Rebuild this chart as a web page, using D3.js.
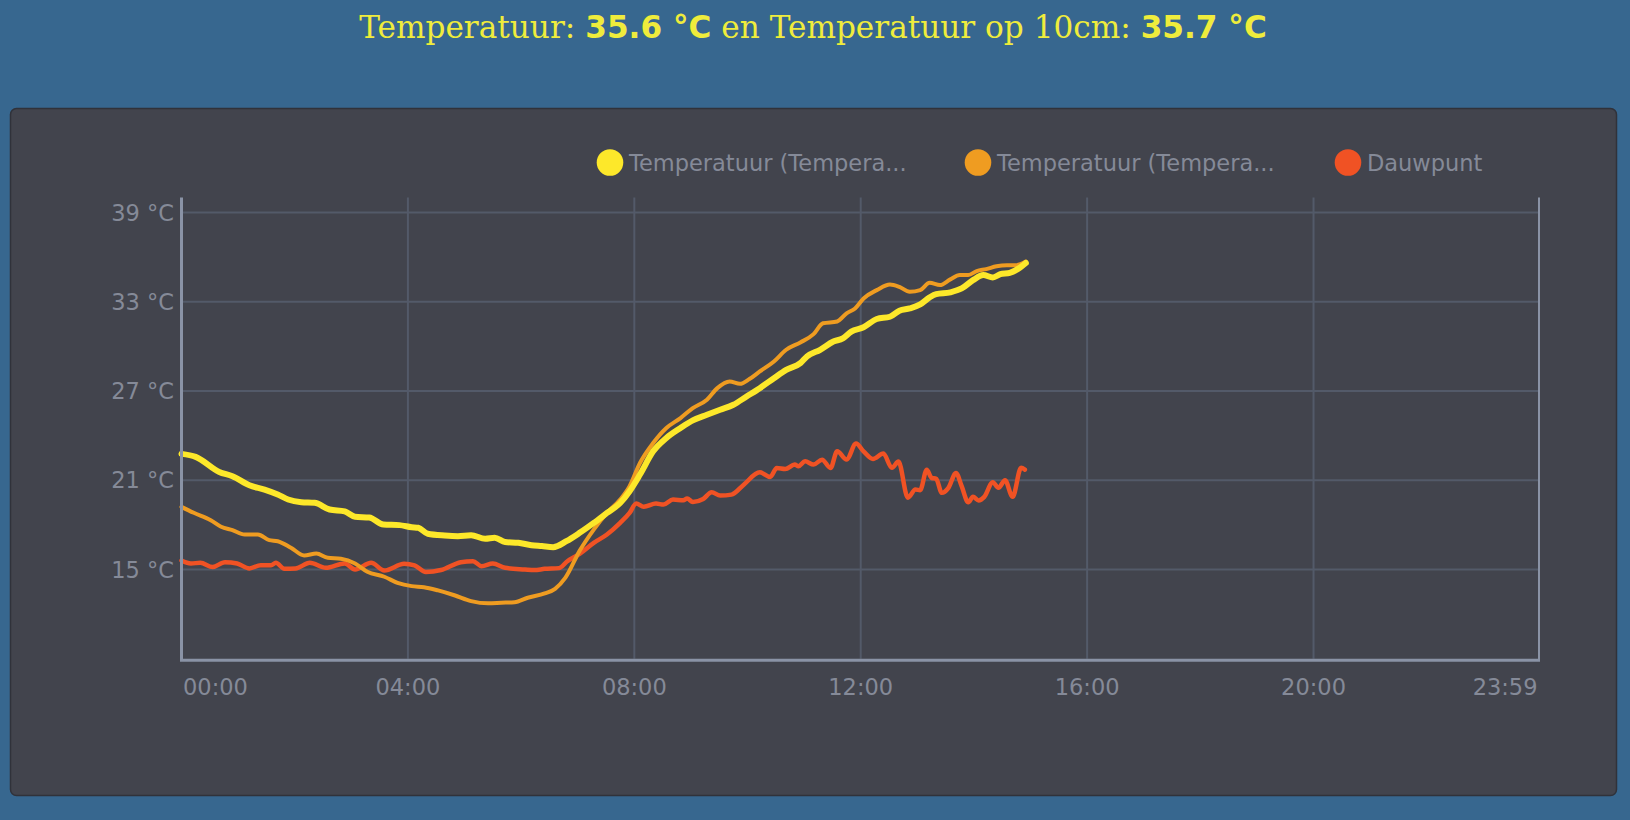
<!DOCTYPE html>
<html>
<head>
<meta charset="utf-8">
<script src="https://cdn.jsdelivr.net/npm/d3@7"></script>
<style>
  body { margin: 0; background: #37678f; }
  svg { display: block; }
</style>
</head>
<body>
<svg id="chart"></svg>
<script>
// titel waarden
const currentTemp = "35.6 °C";
const currentTemp10 = "35.7 °C";

const seriesNames = ["Temperatuur (Tempera...", "Temperatuur (Tempera...", "Dauwpunt"];
const yTicks = [15, 21, 27, 33, 39];
const xTicks = ["00:00", "04:00", "08:00", "12:00", "16:00", "20:00", "23:59"];

const tempTimes = ["00:00","00:15","00:40","00:54","01:12","01:28","01:42","01:53","02:07","02:21","02:37","02:53","03:04","03:19","03:34","03:51","04:04","04:11","04:21","04:39","04:53","05:07","05:22","05:32","05:43","05:57","06:11","06:22","06:34","06:48","07:02","07:17","07:31","07:45","07:55","08:06","08:20","08:34","08:49","09:02","09:17","09:31","09:45","09:59","10:13","10:28","10:41","10:56","11:03","11:17","11:31","11:41","11:50","12:03","12:17","12:31","12:41","12:52","13:03","13:13","13:20","13:35","13:47","13:59","14:10","14:20","14:28","14:38","14:49","14:55"];
const tempValues = [22.77,22.57,21.56,21.27,20.66,20.37,20.04,19.70,19.52,19.48,19.03,18.90,18.54,18.49,18.02,17.98,17.84,17.80,17.40,17.28,17.24,17.30,17.06,17.13,16.84,16.79,16.63,16.57,16.50,16.90,17.46,18.13,18.80,19.47,20.26,21.38,22.94,23.84,24.51,25.02,25.40,25.74,26.07,26.63,27.19,27.86,28.42,28.87,29.32,29.77,30.32,30.54,30.99,31.28,31.84,31.99,32.40,32.55,32.82,33.29,33.51,33.63,33.89,34.45,34.79,34.63,34.85,34.94,35.30,35.60];

const temp10Times = ["00:00","00:13","00:31","00:42","00:54","01:07","01:21","01:33","01:42","01:56","02:10","02:23","02:35","02:49","03:04","03:17","03:35","03:49","04:04","04:17","04:32","04:50","05:07","05:25","05:39","05:53","06:07","06:25","06:36","06:47","07:02","07:17","07:31","07:45","07:55","08:06","08:20","08:34","08:49","09:02","09:17","09:28","09:41","09:52","10:02","10:13","10:28","10:41","10:56","11:10","11:20","11:35","11:45","11:54","12:03","12:17","12:31","12:41","12:52","13:03","13:13","13:24","13:35","13:45","13:54","14:03","14:13","14:24","14:35","14:45","14:55"];
const temp10Values = [19.21,18.81,18.31,17.87,17.64,17.35,17.35,16.97,16.90,16.46,15.94,16.07,15.78,15.72,15.40,14.84,14.51,14.10,13.88,13.81,13.59,13.25,12.87,12.72,12.76,12.80,13.10,13.39,13.70,14.45,16.25,17.68,18.80,19.70,20.60,22.16,23.50,24.51,25.18,25.85,26.41,27.19,27.64,27.48,27.80,28.31,28.98,29.77,30.26,30.82,31.55,31.67,32.22,32.55,33.22,33.78,34.16,34.00,33.67,33.78,34.27,34.12,34.50,34.79,34.79,35.06,35.19,35.39,35.46,35.46,35.70];

const dewTimes = ["00:00","00:10","00:20","00:33","00:46","00:59","01:12","01:24","01:35","01:40","01:49","02:01","02:16","02:33","02:53","03:04","03:21","03:35","03:56","04:07","04:19","04:35","04:56","05:09","05:18","05:30","05:43","06:04","06:14","06:25","06:40","06:49","07:02","07:17","07:31","07:45","07:55","08:02","08:10","08:23","08:31","08:41","08:52","08:56","09:02","09:13","09:22","09:31","09:43","09:56","10:13","10:24","10:31","10:40","10:50","10:54","11:01","11:10","11:19","11:28","11:35","11:45","11:55","12:03","12:13","12:24","12:33","12:40","12:50","12:58","13:03","13:10","13:15","13:20","13:26","13:33","13:41","13:47","13:54","13:59","14:05","14:11","14:20","14:26","14:33","14:41","14:50","14:54"];
const dewValues = [15.60,15.40,15.45,15.16,15.49,15.40,15.07,15.29,15.29,15.45,15.05,15.07,15.45,15.11,15.40,15.00,15.45,14.93,15.38,15.27,14.83,14.96,15.49,15.56,15.22,15.40,15.11,15.00,14.96,15.04,15.09,15.55,16.05,16.79,17.35,18.13,18.80,19.43,19.21,19.43,19.36,19.70,19.65,19.77,19.54,19.74,20.19,19.97,20.03,20.70,21.53,21.22,21.82,21.75,22.05,21.94,22.27,22.05,22.38,21.82,22.94,22.39,23.46,22.94,22.43,22.79,21.83,22.25,19.82,20.37,20.33,21.71,21.16,21.09,20.15,20.49,21.49,20.60,19.52,19.88,19.64,19.88,20.87,20.49,21.00,19.88,21.83,21.71];

const colors = ["#fde82a", "#ef9c21", "#f05224"];
const widths = [6, 4, 4.5];

const W = 1630, H = 820;
const svg = d3.select("#chart").attr("width", W).attr("height", H);

const parseTime = d3.timeParse("%H:%M");

// paneel
svg.append("rect")
  .attr("x", 10.5).attr("y", 108.5)
  .attr("width", 1606).attr("height", 687)
  .attr("rx", 6)
  .attr("fill", "#42444d")
  .attr("stroke", "#30323a")
  .attr("stroke-width", 1.5);

// titel: losse stukken naast elkaar, lettergrootte zo dat het ~908px breed wordt
const titleParts = [
  { text: "Temperatuur:", bold: false },
  { text: currentTemp, bold: true },
  { text: "en Temperatuur op 10cm:", bold: false },
  { text: currentTemp10, bold: true }
];
const gap = 10;
const baseSize = 33;
const titleG = svg.append("g");
const parts = titleG.selectAll("text")
  .data(titleParts)
  .join("text")
  .attr("y", 38)
  .attr("fill", "#efec3c")
  .style("font-family", d => d.bold ? "'DejaVu Sans', sans-serif" : "'DejaVu Serif', serif")
  .style("font-weight", d => d.bold ? "bold" : "normal")
  .style("font-size", baseSize + "px")
  .text(d => d.text);
const natural = parts.nodes().map(n => n.getComputedTextLength());
const scale = Math.min(1, (908 - gap * 3) / d3.sum(natural));
parts.style("font-size", (baseSize * scale) + "px");
const fitted = parts.nodes().map(n => n.getComputedTextLength());
let cx = W / 2 - 2 - (d3.sum(fitted) + gap * 3) / 2;
parts.each(function(d, i) {
  d3.select(this).attr("x", cx);
  cx += fitted[i] + gap;
});

const x = d3.scaleTime()
  .domain([parseTime("00:00"), parseTime("23:59")])
  .range([181.5, 1539]);
const y = d3.scaleLinear()
  .domain([9, 40])
  .range([658.7, 197.6]);

const gridColor = "#535a69";
const axisColor = "#8a93a6";
const labelColor = "#858a98";
const font = "'DejaVu Sans', Verdana, sans-serif";

const plot = svg.append("g");

// horizontale gridlijnen
plot.selectAll(".hgrid")
  .data(yTicks)
  .join("line")
  .attr("class", "hgrid")
  .attr("x1", x.range()[0]).attr("x2", x.range()[1])
  .attr("y1", d => y(d)).attr("y2", d => y(d))
  .attr("stroke", gridColor)
  .attr("stroke-width", 2);

// verticale gridlijnen
plot.selectAll(".vgrid")
  .data(xTicks.slice(1, -1))
  .join("line")
  .attr("class", "vgrid")
  .attr("x1", d => x(parseTime(d))).attr("x2", d => x(parseTime(d)))
  .attr("y1", y(40)).attr("y2", y(9))
  .attr("stroke", gridColor)
  .attr("stroke-width", 2);

// rechter rand
plot.append("line")
  .attr("x1", x(parseTime("23:59"))).attr("x2", x(parseTime("23:59")))
  .attr("y1", y(40)).attr("y2", y(9) + 1)
  .attr("stroke", axisColor)
  .attr("stroke-width", 2);

// y-as labels
plot.selectAll(".ylab")
  .data(yTicks)
  .join("text")
  .attr("class", "ylab")
  .attr("x", 174)
  .attr("y", d => y(d))
  .attr("dy", "0.36em")
  .attr("text-anchor", "end")
  .attr("fill", labelColor)
  .style("font-family", font)
  .style("font-size", "22.5px")
  .text(d => d + " °C");

// x-as labels
plot.selectAll(".xlab")
  .data(xTicks)
  .join("text")
  .attr("class", "xlab")
  .attr("x", (d, i) => x(parseTime(d)) + (i === 0 ? 1.5 : i === xTicks.length - 1 ? -1.5 : 0))
  .attr("y", 695)
  .attr("text-anchor", (d, i) => i === 0 ? "start" : i === xTicks.length - 1 ? "end" : "middle")
  .attr("fill", labelColor)
  .style("font-family", font)
  .style("font-size", "22.5px")
  .text(d => d);

// lijnen
const series = [
  tempTimes.map((t, i) => ({ t: parseTime(t), v: tempValues[i] })),
  temp10Times.map((t, i) => ({ t: parseTime(t), v: temp10Values[i] })),
  dewTimes.map((t, i) => ({ t: parseTime(t), v: dewValues[i] }))
];

const line = d3.line()
  .x(d => x(d.t))
  .y(d => y(d.v))
  .curve(d3.curveMonotoneX);

// dauwpunt onderaan, dan 10cm, gewone temperatuur bovenop
plot.selectAll(".serie")
  .data([2, 1, 0])
  .join("path")
  .attr("class", "serie")
  .attr("d", i => line(series[i]))
  .attr("fill", "none")
  .attr("stroke", i => colors[i])
  .attr("stroke-width", i => widths[i])
  .attr("stroke-linejoin", "round")
  .attr("stroke-linecap", "round");

// assen
plot.append("line")
  .attr("x1", 181.5).attr("x2", 181.5)
  .attr("y1", y(40)).attr("y2", y(9) + 2)
  .attr("stroke", axisColor)
  .attr("stroke-width", 3);
plot.append("line")
  .attr("x1", 180).attr("x2", x.range()[1] + 1)
  .attr("y1", y(9) + 1.5).attr("y2", y(9) + 1.5)
  .attr("stroke", axisColor)
  .attr("stroke-width", 3);

// legenda
const legendX = [610, 978, 1348];
const legend = svg.selectAll(".legend")
  .data(seriesNames)
  .join("g")
  .attr("class", "legend")
  .attr("transform", (d, i) => `translate(${legendX[i]}, 162.5)`);

legend.append("circle")
  .attr("r", 13.3)
  .attr("fill", (d, i) => colors[i]);

legend.append("text")
  .attr("x", 19)
  .attr("y", 8.3)
  .attr("fill", labelColor)
  .style("font-family", font)
  .style("font-size", "22.5px")
  .text(d => d);
</script>
</body>
</html>
